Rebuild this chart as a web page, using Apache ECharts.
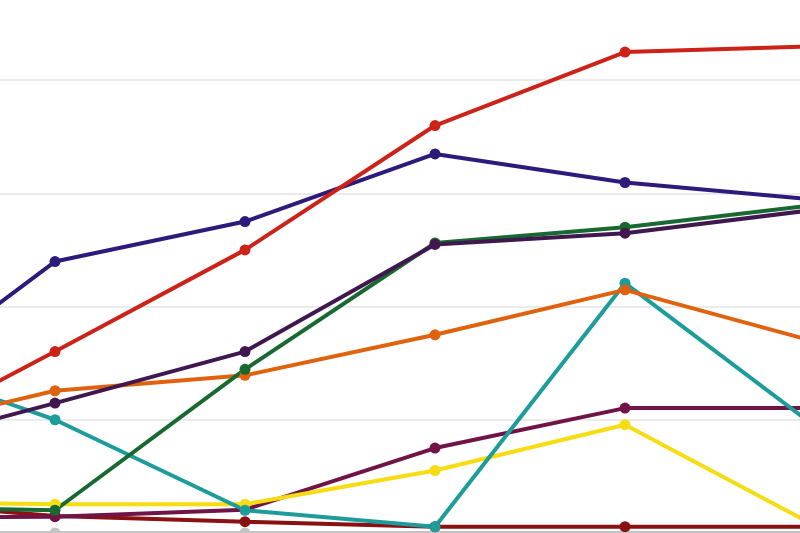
<!DOCTYPE html>
<html>
<head>
<meta charset="utf-8">
<script src="https://cdn.jsdelivr.net/npm/echarts@6/dist/echarts.min.js"></script>
<style>html,body{margin:0;padding:0;background:#fff}#c{width:800px;height:533px}</style>
</head>
<body>
<div id="c"></div>
<script>
const categories = [0, 1, 2, 3, 4, 5];
const grey    = [0, 0, 0, 0, 0, 0];
const darkRed = [0.29, 0.15, 0.10, 0.056, 0.056, 0.056];
const maroon  = [0.135, 0.144, 0.206, 0.75, 1.103, 1.103];
const yellow  = [0.276, 0.254, 0.254, 0.552, 0.956, 0.064];
const green   = [0.232, 0.201, 1.445, 2.561, 2.70, 2.897];
const teal    = [1.587, 1.0, 0.201, 0.056, 2.206, 0.941];
const navy    = [1.143, 2.397, 2.75, 3.347, 3.095, 2.944];
const red     = [0.72, 1.602, 2.50, 3.598, 4.247, 4.298];
const purple  = [0.70, 1.147, 1.602, 2.548, 2.647, 2.854];
const orange  = [0.859, 1.256, 1.392, 1.75, 2.147, 1.69];

const seriesDefs = [
  ['Grey', grey, '#c4c4c4'],
  ['Dark red', darkRed, '#8a1111'],
  ['Maroon', maroon, '#701448'],
  ['Yellow', yellow, '#f7dc12'],
  ['Teal', teal, '#1d9c9c'],
  ['Navy', navy, '#2e1a7a'],
  ['Red', red, '#cc2218'],
  ['Orange', orange, '#e0620f'],
  ['Green', green, '#17692f'],
  ['Purple', purple, '#40174f']
];

const chart = echarts.init(document.getElementById('c'), null, {renderer: 'canvas'});
chart.setOption({
  animation: false,
  backgroundColor: '#ffffff',
  grid: {left: 0, right: 0, top: 80, bottom: -0.3, containLabel: false},
  xAxis: {
    type: 'value', min: 0.7105, max: 4.921,
    axisLine: {show: false}, axisTick: {show: false}, axisLabel: {show: false},
    splitLine: {show: false}
  },
  yAxis: {
    type: 'value', min: 0, max: 4, interval: 1,
    axisLine: {show: false}, axisTick: {show: false}, axisLabel: {show: false},
    splitLine: {show: true, lineStyle: {color: '#ebebeb', width: 2}}
  },
  series: seriesDefs.map(([name, data, color]) => ({
    name, type: 'line', data: data.map((v, i) => [categories[i], v]), clip: false,
    symbol: 'circle', symbolSize: 11,
    lineStyle: {color, width: 4},
    itemStyle: {color},
    emphasis: {disabled: true}
  }))
});
</script>
</body>
</html>
